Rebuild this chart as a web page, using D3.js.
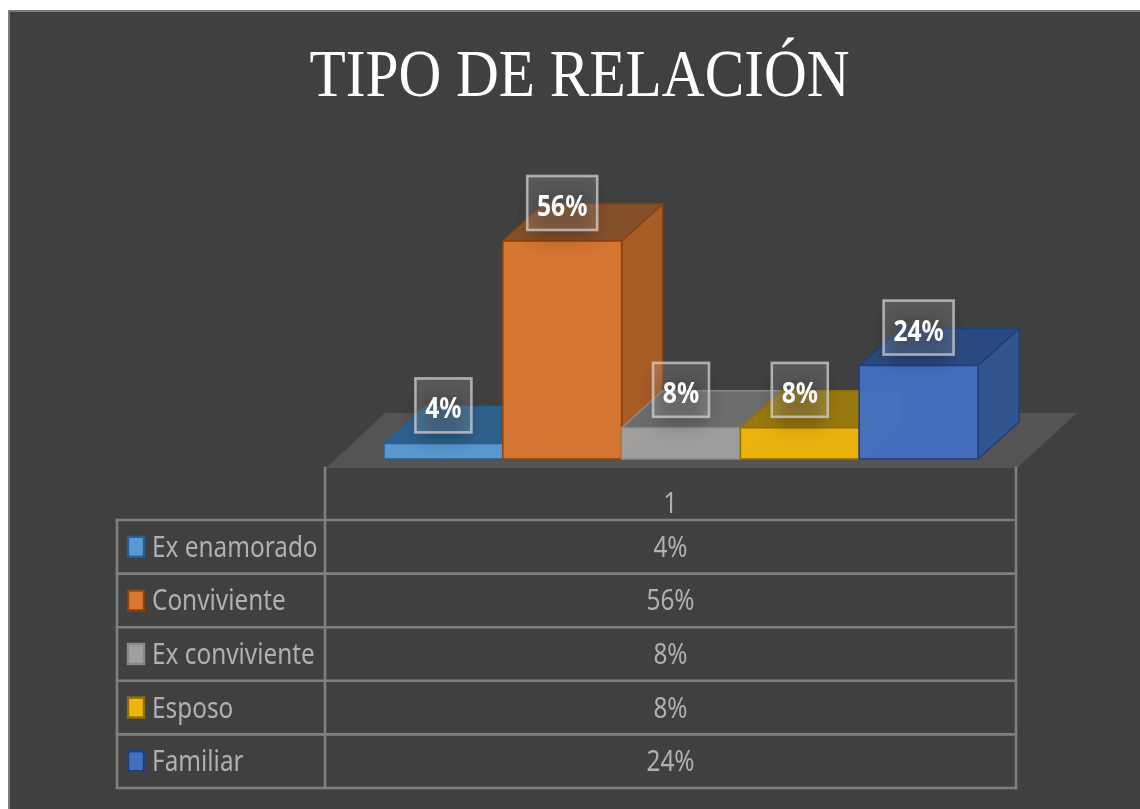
<!DOCTYPE html>
<html><head><meta charset="utf-8">
<script src="https://cdn.jsdelivr.net/npm/d3@7/dist/d3.min.js"></script>
<style>html,body{margin:0;padding:0;background:#fff;overflow:hidden}svg{display:block}</style>
</head><body><div id="chart"></div>
<script>
const titleText = "TIPO DE RELACIÓN";
const categories = ["Ex enamorado","Conviviente","Ex conviviente","Esposo","Familiar"];
const values = [4,56,8,8,24];
const seriesHeader = "1";
const frontColors = ["#5a9ad4","#da7632","#a0a0a0","#efb508","#4370c0"];
const topColors   = ["#2f608c","#85502a","#6c6c6c","#99780f","#2c4a80"];
const sideColors  = ["#3a6f9f","#a85b27","#7a7a7a","#a8850f","#33558f"];
const edgeColors  = ["#27608f","#8a4310","#8a8a8a","#8f6f05","#203f78"];

const W=1140,H=809;
const svg=d3.select("#chart").append("svg").attr("width",W).attr("height",H);
const defs=svg.append("defs");
defs.append("filter").attr("id","soft").attr("x","0").attr("y","0").attr("width","1").attr("height","1")
  .append("feGaussianBlur").attr("stdDeviation",0.6);
const sh=defs.append("filter").attr("id","sh").attr("x","-40%").attr("y","-40%").attr("width","180%").attr("height","180%");
sh.append("feGaussianBlur").attr("stdDeviation",9);

const root=svg.append("g").attr("filter","url(#soft)");
root.append("rect").attr("width",W).attr("height",H).attr("fill","#fff");
root.append("rect").attr("x",9).attr("y",11).attr("width",W).attr("height",H).attr("fill","#404040").attr("stroke","#7d7d7d").attr("stroke-width",2);

root.append("text").attr("transform","translate(579.5,96) scale(.885,1)").attr("text-anchor","middle")
  .attr("font-family","'Liberation Serif',serif").attr("font-size",67).attr("fill","#fff").text(titleText);

const x=d3.scaleBand().domain(categories).range([384,978]);
const y=d3.scaleLinear().domain([0,56]).range([459,241]);
const dx=41,dy=-37;
const poly=pts=>pts.map(p=>p.join(",")).join(" ");

// floor
const fl=d3.scaleLinear().domain([0,1]).range([326,1017]);
root.append("polygon").attr("points",poly([[fl(0),468],[fl(1),468],[fl(1)+60,413],[fl(0)+59,413]])).attr("fill","#545252");

// bars
const bars=root.append("g").selectAll("g").data(categories).join("g");
bars.each(function(c,i){
  const g=d3.select(this);
  const x0=x(c),x1=x0+x.bandwidth(),yb=y(0),yt=y(values[i]);
  const st={stroke:edgeColors[i],"stroke-width":1.5,"stroke-linejoin":"round"};
  const face=(pts,fill,op,sw)=>{const p=g.append("polygon").attr("points",poly(pts)).attr("fill",fill).attr("fill-opacity",op);
    if(sw){Object.entries(st).forEach(([k,v])=>p.attr(k,v));}return p;};
  // inner ghost faces
  face([[x0,yb],[x1,yb],[x1+dx,yb+dy],[x0+dx,yb+dy]],frontColors[i],.35,false);
  face([[x0,yb],[x0+dx,yb+dy],[x0+dx,yt+dy],[x0,yt]],frontColors[i],.45,false);
  face([[x0+dx,yb+dy],[x1+dx,yb+dy],[x1+dx,yt+dy],[x0+dx,yt+dy]],frontColors[i],.35,false);
  face([[x1,yb],[x1+dx,yb+dy],[x1+dx,yt+dy],[x1,yt]],sideColors[i],1,true);
  face([[x0,yt],[x1,yt],[x1+dx,yt+dy],[x0+dx,yt+dy]],topColors[i],1,true);
  face([[x0,yb],[x1,yb],[x1,yt],[x0,yt]],frontColors[i],.94,true);
});

// labels
const fmt=v=>v+"%";
const boxW=v=>String(v).length>1?70:56, boxH=54;
const lab=root.append("g").selectAll("g").data(categories).join("g")
  .attr("transform",(c,i)=>`translate(${x(c)+x.bandwidth()/2},${y(values[i])-38})`);
lab.append("rect").attr("x",(c,i)=>-boxW(values[i])/2+4).attr("y",-boxH/2+14).attr("width",(c,i)=>boxW(values[i])-8).attr("height",boxH-8)
  .attr("fill","#000").attr("opacity",.28).attr("filter","url(#sh)");
lab.append("rect").attr("x",(c,i)=>-boxW(values[i])/2).attr("y",-boxH/2).attr("width",(c,i)=>boxW(values[i])).attr("height",boxH)
  .attr("fill","#fff").attr("fill-opacity",.14).attr("stroke","#d9d9d9").attr("stroke-opacity",.7).attr("stroke-width",2.6);
lab.append("text").attr("transform","translate(0,13) scale(.88,1)").attr("text-anchor","middle")
  .attr("font-family","'Noto Sans',sans-serif").attr("font-weight",700).attr("font-size",28).attr("fill","#fff")
  .text((c,i)=>fmt(values[i]));

// table
const gridColor="#7f7f7f";
const rowY=d3.scalePoint().domain(d3.range(categories.length+1)).range([520,788]);
const rowH=rowY(1)-rowY(0);
const t=root.append("g").attr("stroke",gridColor).attr("stroke-width",2.6).attr("fill","none").attr("stroke-linecap","square");
t.selectAll("line.h").data(rowY.domain()).join("line").attr("x1",117).attr("x2",1016).attr("y1",d=>rowY(d)).attr("y2",d=>rowY(d));
t.append("line").attr("x1",117).attr("x2",117).attr("y1",520).attr("y2",788);
t.append("line").attr("x1",325).attr("x2",325).attr("y1",468).attr("y2",788);
t.append("line").attr("x1",1016).attr("x2",1016).attr("y1",468).attr("y2",788);

const tf="'Noto Sans',sans-serif", tc="#b0b0b0", fs=29, sx=.84;
const vals=[seriesHeader,...values.map(fmt)];
const valY=i=>i===0?rowY(0)-7:rowY(i-1)+rowH/2+10;
root.append("g").selectAll("text").data(vals).join("text")
  .attr("transform",(d,i)=>`translate(670.5,${valY(i)}) scale(${sx},1)`)
  .attr("text-anchor","middle").attr("font-family",tf).attr("font-size",fs).attr("fill",tc).text(d=>d);
const rows=root.append("g").selectAll("g").data(categories).join("g")
  .attr("transform",(c,i)=>`translate(0,${rowY(i)+rowH/2})`);
rows.append("rect").attr("x",128).attr("y",-10).attr("width",16).attr("height",20)
  .attr("fill",(c,i)=>frontColors[i]).attr("stroke",(c,i)=>edgeColors[i]).attr("stroke-width",2.4);
rows.append("text").attr("transform",`translate(152,10) scale(${sx},1)`).attr("font-family",tf).attr("font-size",fs).attr("fill",tc).text(c=>c);
</script></body></html>
